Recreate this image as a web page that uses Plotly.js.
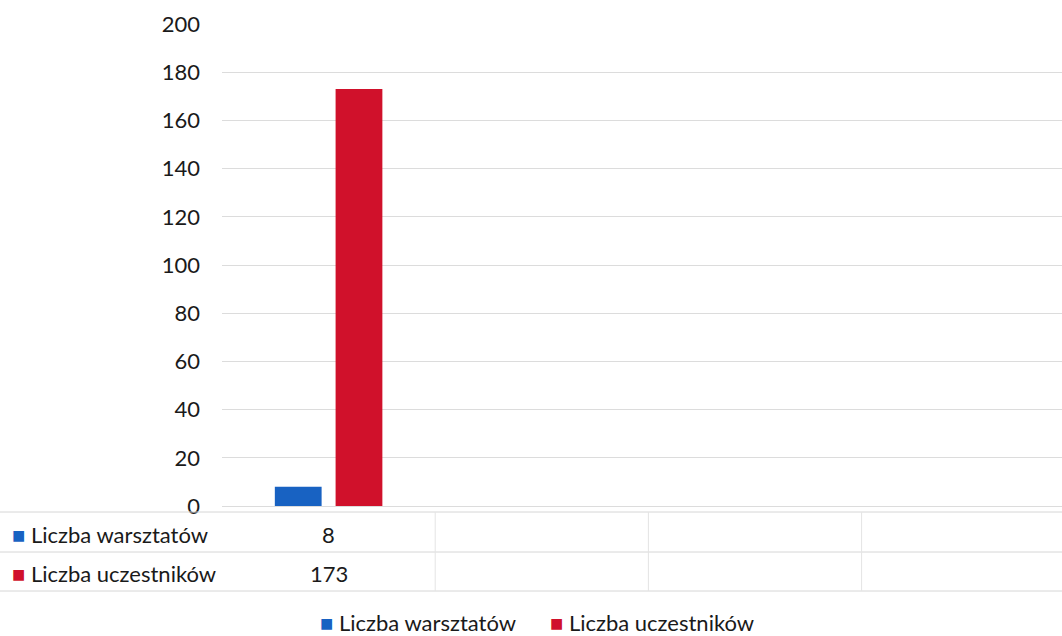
<!DOCTYPE html>
<html>
<head>
<meta charset="utf-8">
<script src="https://cdn.plot.ly/plotly-3.0.1.min.js"></script>
<style>html,body{margin:0;padding:0;background:#fff;}#chart{width:1062px;height:636px;}</style>
</head>
<body>
<div id="chart"></div>
<script>
const categories = ["Kategoria 1", "Kategoria 2", "Kategoria 3", "Kategoria 4"];
const seriesNames = ["Liczba warsztatów", "Liczba uczestników"];
const warsztaty = [8, null, null, null];
const uczestnicy = [173, null, null, null];
const colors = ["#1862c2", "#d0112b"];
const yTicks = [0, 20, 40, 60, 80, 100, 120, 140, 160, 180, 200];

const FONT = "Lato, 'Open Sans', sans-serif";
const FS = 22;
const W = 1062, H = 636, L = 222, T = 24, B = 130;
const plotH = H - T - B, plotW = W - L;
const px2py = p => (H - B - p) / plotH;
const px2pxx = p => (p - L) / plotW;

const traces = [
  {type: "bar", x: categories, y: warsztaty, name: seriesNames[0], marker: {color: colors[0]}, hoverinfo: "y", showlegend: false},
  {type: "bar", x: categories, y: uczestnicy, name: seriesNames[1], marker: {color: colors[1]}, hoverinfo: "y", showlegend: false}
];

const shapes = [];
// horizontal table lines
[512, 552, 591].forEach(p => shapes.push({type: "line", xref: "paper", yref: "paper",
  x0: px2pxx(0), x1: 1, y0: px2py(p), y1: px2py(p), line: {color: "#d6d6d6", width: 1}}));
// vertical dividers between categories
[0.5, 1.5, 2.5].forEach(v => shapes.push({type: "line", xref: "x", yref: "paper",
  x0: v, x1: v, y0: px2py(512), y1: px2py(591), line: {color: "#e4e4e4", width: 1}}));

const key = c => "<span style='color:" + c + "'>■</span> ";
const annotations = [];
const rows = [warsztaty, uczestnicy];
const rowY = [534, 573];
rows.forEach((vals, r) => {
  annotations.push({xref: "paper", yref: "paper", x: px2pxx(10), y: px2py(rowY[r]), xanchor: "left", yanchor: "middle",
    showarrow: false, text: key(colors[r]) + seriesNames[r],
    font: {family: FONT, size: FS, color: "#1a1a1a"}});
  vals.forEach((v, i) => {
    if (v !== null) annotations.push({xref: "x", yref: "paper", x: i, y: px2py(rowY[r]),
      xanchor: "center", yanchor: "middle", showarrow: false, text: String(v),
      font: {family: FONT, size: FS, color: "#1a1a1a"}});
  });
});
// bottom legend
const legX = [318, 548];
seriesNames.forEach((n, r) => annotations.push({xref: "paper", yref: "paper", x: px2pxx(legX[r]), y: px2py(622),
  xanchor: "left", yanchor: "middle", showarrow: false,
  text: key(colors[r]) + n, font: {family: FONT, size: FS, color: "#1a1a1a"}}));

const layout = {
  width: W, height: H,
  margin: {l: L, r: 0, t: T, b: B, pad: 0, autoexpand: false},
  paper_bgcolor: "#fff", plot_bgcolor: "#fff",
  font: {family: FONT, size: FS, color: "#1a1a1a"},
  barmode: "group", bargap: 0.43, bargroupgap: 0.23,
  xaxis: {type: "category", range: [-0.5, 3.44], showticklabels: false, showgrid: false, zeroline: false, showline: false, ticks: ""},
  yaxis: {range: [0, 200], tickvals: yTicks, ticktext: yTicks.map(String), showgrid: true, gridcolor: "#dcdcdc", gridwidth: 1,
    zeroline: true, zerolinecolor: "#dcdcdc", showline: false, ticks: "", ticklabelstandoff: 21,
    tickfont: {family: FONT, size: FS, color: "#1a1a1a"}},
  showlegend: false,
  shapes: shapes, annotations: annotations
};

Plotly.newPlot("chart", traces, layout, {displayModeBar: false, staticPlot: true});
</script>
</body>
</html>
